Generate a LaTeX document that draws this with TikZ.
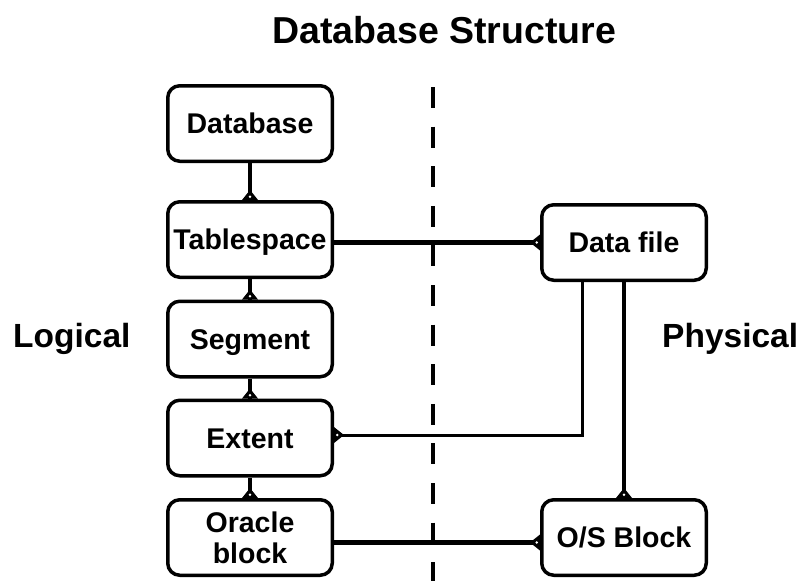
\documentclass[tikz,border=0pt]{standalone}
\usepackage{fontspec}
\setmainfont{Liberation Sans}
\begin{document}
\begin{tikzpicture}[x={(1pt,0)},y={(0,-1pt)},
  box/.style={draw,line width=3.5pt,rounded corners=12pt,minimum width=164.5pt,minimum height=75.5pt,inner sep=0pt,font=\fontsize{28.5}{31}\selectfont\bfseries,align=center},
  one/.style={text height=20.4pt,text depth=0pt},
  conn/.style={line width=4.5pt},
  thin/.style={line width=3pt},
  cf/.pic={\fill[line join=round] (-8pt,0pt)--(0pt,10pt)--(8pt,0pt)--cycle;
           \fill[white] (0pt,3.2pt) circle (1.4pt);},
  lbl/.style={anchor=base west,inner sep=0pt,font=\fontsize{33.5}{36}\selectfont\bfseries}
]
\useasboundingbox (0,0) rectangle (801,581);
% title
\node[anchor=base west,inner sep=0pt,font=\fontsize{37.5}{40}\selectfont\bfseries] (title) at (272,43) {Database Structure};
% divider
\coordinate (dtop) at (433,87);
\coordinate (dbot) at (433,581);
\draw[line width=4.5pt,dash pattern=on 21pt off 18.6pt] (dtop) -- (dbot);
% side labels
\node[lbl] (logical) at (13,347) {Logical};
\node[lbl] (physical) at (662,347) {Physical};
% left boxes
\node[box,one] (db) at (250,123.5) {Database};
\node[box,one] (ts) at (250,239.5) {Tablespace};
\node[box,one] (sg) at (250,339) {Segment};
\node[box,one] (ex) at (250,438) {Extent};
\node[box] (ob) at (250,537.5) {Oracle\\block};
% right boxes
\node[box,one] (df) at (624,242.5) {Data file};
\node[box,one] (os) at (624,537.5) {O/S Block};
% connectors
\draw[conn] (db.south) -- (ts.north);
\pic at (ts.north) {cf};
\draw[conn] (ts.south) -- (sg.north);
\pic at (sg.north) {cf};
\draw[conn] (sg.south) -- (ex.north);
\pic at (ex.north) {cf};
\draw[conn] (ex.south) -- (ob.north);
\pic at (ob.north) {cf};
\draw[conn] (df.west -| ts.east) -- (df.west);
\pic[rotate=90] at (df.west) {cf};
\draw[thin] ([xshift=-42pt]df.south) |- ([yshift=3pt]ex.east);
\pic[rotate=-90] at ([yshift=3pt]ex.east) {cf};
\draw[conn] (df.south) -- (os.north);
\pic at (os.north) {cf};
\draw[conn] ([yshift=-5pt]ob.east) -- ([yshift=-5pt]os.west);
\pic[rotate=90] at ([yshift=-5pt]os.west) {cf};
\end{tikzpicture}
\end{document}
